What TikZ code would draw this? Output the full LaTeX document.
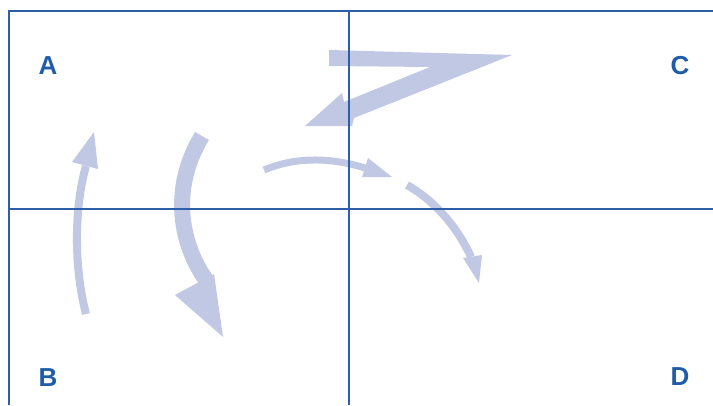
\documentclass[tikz,border=0pt]{standalone}
\usepackage{fontspec}
\setmainfont{Liberation Sans}
\definecolor{arr}{HTML}{C0C8E4}
\definecolor{frame}{HTML}{2F5EA8}
\definecolor{lab}{HTML}{1F5CA9}
\begin{document}
\begin{tikzpicture}[x=1pt,y=-1pt,
  shaft/.style={draw=arr,line cap=butt},
  head/.style={fill=arr},
  frameline/.style={draw=frame,line width=1.2pt},
  letter/.style={text=lab,font=\fontsize{26}{26}\selectfont\bfseries,anchor=base,inner sep=0pt}]
\useasboundingbox (0,0) rectangle (713,405);
% Z arrow
\fill[arr] (329,50) -- (512,55) -- (354,118) -- (352,126) -- (305,126) -- (342,93) -- (344,102) -- (430,67) -- (329,66) -- cycle;
% left up arrow
\draw[shaft,line width=8pt] (86,314) .. controls (72,260) and (76,200) .. (86,166);
\fill[head] (72,162) -- (94,132) -- (98,169) -- cycle;
% big down arrow
\draw[shaft,line width=16pt] (202,136) .. controls (172,185) and (178,240) .. (206,280);
\fill[head] (175,295) -- (214,274) -- (223,337) -- cycle;
% upper arc arrow
\draw[shaft,line width=7pt] (264,170) .. controls (295,157) and (330,157) .. (365,168);
\fill[head] (368,158) -- (392,177) -- (362,177) -- cycle;
% right down arrow
\draw[shaft,line width=8pt] (407,185) .. controls (430,198) and (455,222) .. (471,257);
\fill[head] (463,258) -- (482,255) -- (479,283) -- cycle;
% frame
\coordinate (tl) at (9,11);
\coordinate (tr) at (713,11);
\coordinate (bl) at (9,405);
\coordinate (mt) at (349,11);
\coordinate (mb) at (349,405);
\coordinate (ml) at (9,209);
\coordinate (mr) at (713,209);
\draw[frameline] (bl) -- (tl) -- (tr);
\draw[frameline] (mt) -- (mb);
\draw[frameline] (ml) -- (mr);
% labels
\node[letter] (A) at (48,74) {A};
\node[letter] (C) at (680,74) {C};
\node[letter] (B) at (48,386) {B};
\node[letter] (D) at (680,385) {D};
\end{tikzpicture}
\end{document}
